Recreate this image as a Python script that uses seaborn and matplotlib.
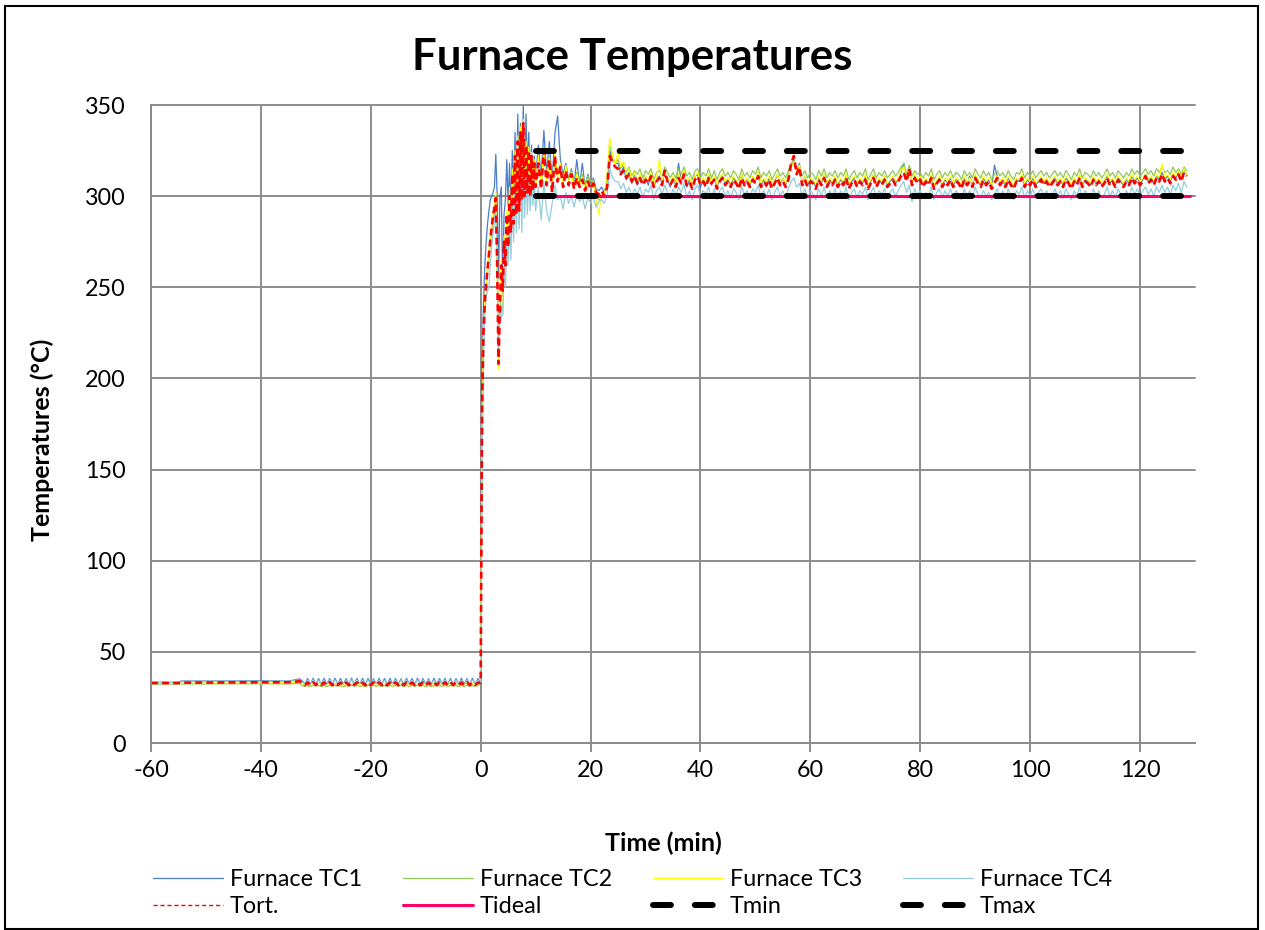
import numpy as np
import pandas as pd
import matplotlib
matplotlib.use('Agg')
import matplotlib.pyplot as plt
import seaborn as sns
from matplotlib.lines import Line2D
from matplotlib.patches import Rectangle

sns.set_theme(style='white')
plt.rcParams['font.family'] = ['Lato', 'DejaVu Sans']
plt.rcParams['axes.unicode_minus'] = False
plt.rcParams['text.color'] = 'black'
plt.rcParams['xtick.color'] = 'black'
plt.rcParams['ytick.color'] = 'black'

# ---------------- data ----------------
series_names = ['Furnace TC1', 'Furnace TC2', 'Furnace TC3', 'Furnace TC4', 'Tort.']

# pre-heating phase (min)
t_pre = [-60, -55, -54.5, -48, -40, -35, -33.5, -33, -32.5]
tc1_pre = [33.3, 33.3, 34.0, 34.0, 34.1, 34.0, 34.8, 35.2, 34.2]
tc2_pre = [32.3, 32.3, 32.4, 32.4, 32.5, 32.4, 32.6, 32.8, 31.6]
tc3_pre = [32.8, 32.8, 32.9, 33.0, 33.0, 33.1, 33.3, 33.5, 32.4]
tc4_pre = [33.2, 33.2, 33.6, 33.8, 33.7, 33.8, 34.3, 34.6, 33.5]
tort_pre = [32.9, 32.9, 33.1, 33.2, 33.3, 33.3, 33.7, 34.0, 32.9]

# oscillating phase before ignition, -32 .. -0.5 min every 0.5 min
t_saw = np.arange(-32, 0, 0.5)
tc1_saw = [32.2, 35.4, 32.1, 35.5, 32.3, 35.3, 32.2, 35.5, 32.1, 35.4, 32.2, 35.5, 32.3, 35.4, 32.1, 35.3,
           32.2, 35.5, 32.3, 35.4, 32.2, 35.5, 32.1, 35.4, 32.2, 35.3, 32.2, 35.5, 32.3, 35.4, 32.1, 35.5,
           32.2, 35.4, 32.2, 35.3, 32.1, 35.5, 32.3, 35.4, 32.2, 35.5, 32.2, 35.4, 32.1, 35.3, 32.2, 35.5,
           32.3, 35.4, 32.2, 35.5, 32.1, 35.4, 32.2, 35.3, 32.2, 35.5, 32.3, 35.4, 32.1, 35.5, 32.2, 35.4]
tc2_saw = [31.0, 31.6, 30.9, 31.7, 31.1, 31.5, 31.0, 31.6, 30.9, 31.7, 31.0, 31.6, 31.1, 31.5, 30.9, 31.6,
           31.0, 31.7, 31.1, 31.6, 31.0, 31.5, 30.9, 31.6, 31.0, 31.7, 31.1, 31.6, 31.0, 31.5, 30.9, 31.6,
           31.1, 31.6, 31.0, 31.7, 30.9, 31.6, 31.0, 31.5, 31.1, 31.6, 31.0, 31.7, 30.9, 31.6, 31.0, 31.5,
           31.1, 31.6, 31.0, 31.7, 30.9, 31.6, 31.1, 31.5, 31.0, 31.6, 30.9, 31.7, 31.0, 31.6, 31.1, 31.5]
tc3_saw = [32.0, 32.9, 31.9, 33.0, 32.1, 32.8, 32.0, 32.9, 31.9, 33.0, 32.0, 32.9, 32.1, 32.8, 31.9, 32.9,
           32.0, 33.0, 32.1, 32.9, 32.0, 32.8, 31.9, 32.9, 32.0, 33.0, 32.1, 32.9, 32.0, 32.8, 31.9, 32.9,
           32.1, 32.9, 32.0, 33.0, 31.9, 32.9, 32.0, 32.8, 32.1, 32.9, 32.0, 33.0, 31.9, 32.9, 32.0, 32.8,
           32.1, 32.9, 32.0, 33.0, 31.9, 32.9, 32.1, 32.8, 32.0, 32.9, 31.9, 33.0, 32.0, 32.9, 32.1, 32.8]
tc4_saw = [32.4, 34.6, 32.3, 34.7, 32.5, 34.5, 32.4, 34.6, 32.3, 34.7, 32.4, 34.6, 32.5, 34.5, 32.3, 34.6,
           32.4, 34.7, 32.5, 34.6, 32.4, 34.5, 32.3, 34.6, 32.4, 34.7, 32.5, 34.6, 32.4, 34.5, 32.3, 34.6,
           32.5, 34.6, 32.4, 34.7, 32.3, 34.6, 32.4, 34.5, 32.5, 34.6, 32.4, 34.7, 32.3, 34.6, 32.4, 34.5,
           32.5, 34.6, 32.4, 34.7, 32.3, 34.6, 32.5, 34.5, 32.4, 34.6, 32.3, 34.7, 32.4, 34.6, 32.5, 34.5]
tort_saw = [31.8, 33.2, 31.7, 33.3, 31.9, 33.1, 31.8, 33.2, 31.7, 33.3, 31.8, 33.2, 31.9, 33.1, 31.7, 33.2,
            31.8, 33.3, 31.9, 33.2, 31.8, 33.1, 31.7, 33.2, 31.8, 33.3, 31.9, 33.2, 31.8, 33.1, 31.7, 33.2,
            31.9, 33.2, 31.8, 33.3, 31.7, 33.2, 31.8, 33.1, 31.9, 33.2, 31.8, 33.3, 31.7, 33.2, 31.8, 33.1,
            31.9, 33.2, 31.8, 33.3, 31.7, 33.2, 31.9, 33.1, 31.8, 33.2, 31.7, 33.3, 31.8, 33.2, 31.9, 33.1]

# heating ramp, 0 .. 10 min every 0.25 min
t_ramp = np.arange(0, 10.01, 0.25)
tc1_ramp = [33, 200, 240, 262, 275, 285, 292, 298, 300, 302, 305, 323, 300, 255, 300, 305, 250, 290, 298, 320,
            295, 318, 290, 325, 300, 335, 298, 345, 305, 340, 310, 350, 305, 345, 312, 335, 308, 328, 306, 322, 310]
tc2_ramp = [33, 175, 220, 240, 250, 258, 266, 274, 281, 287, 292, 297, 268, 215, 245, 238, 235, 270, 268, 285,
            278, 298, 285, 308, 290, 318, 295, 325, 296, 330, 300, 332, 302, 325, 305, 320, 303, 320, 305, 316, 306]
tc3_ramp = [33, 180, 222, 243, 253, 262, 270, 278, 285, 290, 295, 302, 258, 205, 250, 265, 240, 278, 265, 292,
            275, 305, 282, 315, 288, 325, 292, 333, 295, 338, 300, 342, 302, 330, 304, 327, 302, 324, 305, 320, 306]
tc4_ramp = [33, 150, 205, 235, 245, 248, 250, 262, 272, 280, 287, 292, 265, 215, 238, 233, 236, 262, 250, 275,
            262, 290, 265, 298, 275, 308, 280, 315, 282, 318, 280, 322, 288, 315, 290, 312, 292, 310, 295, 308, 292]
tort_ramp = [33, 185, 225, 242, 252, 260, 268, 276, 283, 289, 294, 299, 262, 208, 240, 262, 248, 275, 262, 290,
             272, 300, 280, 312, 285, 322, 290, 330, 292, 335, 298, 340, 300, 328, 302, 325, 300, 322, 303, 318, 305]

# stabilisation, 10.5 .. 24.5 min every 0.5 min
t_hold = np.arange(10.5, 24.51, 0.5)
tc1_hold = [328, 310, 336, 312, 330, 308, 334, 344, 320, 312, 318, 309, 315, 307, 320,
            306, 318, 305, 312, 306, 310, 304, 303, 305, 302, 308, 325, 320, 318]
tc2_hold = [320, 306, 324, 310, 322, 306, 320, 312, 318, 309, 316, 310, 314, 308, 313,
            309, 312, 307, 311, 308, 309, 300, 298, 299, 300, 310, 328, 322, 318]
tc3_hold = [322, 305, 326, 308, 321, 304, 324, 310, 318, 306, 317, 307, 313, 305, 312,
            306, 310, 304, 309, 305, 308, 298, 290, 302, 300, 312, 332, 322, 317]
tc4_hold = [305, 287, 308, 292, 286, 296, 306, 298, 300, 293, 302, 296, 300, 294, 301,
            297, 300, 293, 299, 296, 300, 294, 297, 298, 296, 300, 315, 310, 308]
tort_hold = [318, 304, 325, 306, 320, 302, 322, 308, 316, 305, 314, 306, 312, 304, 310,
             305, 309, 303, 308, 304, 307, 302, 301, 303, 300, 305, 322, 318, 316]

# steady phase, 25 .. 128.5 min every 0.5 min
t_steady = np.arange(25, 128.51, 0.5)
tc1_steady = [
    318, 312, 316, 309, 313, 307, 312, 306, 310, 308, 311, 306, 312, 305, 309, 311, 307, 312, 309, 305,
    310, 306, 318, 308, 313, 305, 309, 306, 311, 312, 305, 309, 307, 311, 306, 310, 305, 309, 311, 307,
    309, 306, 310, 308, 305, 312, 307, 309, 306, 310, 308, 313, 306, 309, 305, 310, 306, 308, 312, 307,
    310, 306, 311, 317, 320, 314, 318, 307, 311, 306, 309, 308, 305, 310, 307, 312, 306, 309, 307, 310,
    306, 309, 307, 311, 305, 308, 310, 306, 309, 307, 311, 305, 308, 312, 306, 309, 307, 311, 306, 308,
    310, 307, 309, 313, 318, 309, 316, 307, 311, 308, 310, 306, 309, 307, 311, 305, 308, 310, 306, 309,
    307, 310, 306, 309, 308, 305, 310, 307, 311, 306, 311, 308, 306, 310, 307, 309, 305, 317, 311, 307,
    309, 306, 310, 307, 305, 309, 308, 311, 306, 309, 307, 310, 306, 308, 310, 307, 309, 306, 308, 310,
    307, 309, 306, 310, 308, 305, 309, 307, 311, 306, 309, 308, 306, 310, 307, 309, 306, 308, 311, 307,
    309, 306, 310, 308, 306, 309, 307, 311, 308, 310, 307, 309, 312, 308, 310, 307, 311, 309, 313, 309,
    311, 308, 312, 310, 313, 309, 314, 312]
tc2_steady = [
    320, 315, 318, 313, 316, 311, 314, 312, 315, 310, 314, 312, 315, 309, 313, 314, 311, 316, 313, 310,
    313, 310, 315, 312, 316, 311, 313, 309, 314, 315, 310, 313, 311, 315, 310, 314, 309, 313, 315, 311,
    313, 310, 314, 312, 309, 315, 311, 313, 310, 314, 312, 316, 310, 313, 311, 314, 309, 312, 315, 311,
    313, 310, 314, 318, 320, 315, 317, 311, 314, 310, 313, 312, 309, 314, 311, 315, 310, 313, 311, 314,
    310, 313, 311, 315, 309, 312, 314, 310, 313, 311, 315, 309, 312, 315, 310, 313, 311, 314, 310, 312,
    314, 311, 313, 316, 318, 312, 317, 311, 314, 312, 313, 310, 313, 311, 315, 309, 312, 314, 310, 313,
    311, 314, 310, 313, 312, 309, 314, 311, 313, 310, 315, 312, 310, 314, 311, 313, 309, 312, 314, 311,
    313, 310, 314, 311, 309, 313, 312, 315, 310, 313, 311, 314, 310, 312, 314, 311, 313, 310, 312, 314,
    311, 313, 310, 314, 312, 309, 313, 311, 315, 310, 313, 312, 310, 314, 311, 313, 310, 312, 315, 311,
    313, 310, 314, 312, 310, 313, 311, 315, 312, 314, 311, 313, 315, 312, 314, 311, 315, 313, 316, 313,
    314, 312, 316, 313, 315, 312, 316, 314]
tc3_steady = [
    325, 316, 319, 312, 315, 309, 313, 308, 312, 307, 311, 309, 313, 306, 310, 320, 308, 313, 310, 307,
    311, 307, 312, 309, 314, 308, 310, 306, 311, 313, 307, 310, 308, 312, 307, 311, 306, 310, 312, 308,
    310, 307, 311, 309, 306, 312, 308, 310, 307, 311, 309, 313, 307, 310, 308, 311, 306, 309, 312, 308,
    310, 307, 311, 316, 319, 313, 317, 308, 311, 307, 310, 309, 306, 311, 308, 312, 307, 310, 308, 311,
    307, 310, 308, 312, 306, 309, 311, 307, 310, 308, 312, 306, 309, 312, 307, 310, 308, 311, 307, 309,
    311, 308, 310, 314, 316, 310, 315, 308, 312, 309, 311, 307, 310, 308, 312, 306, 309, 311, 307, 310,
    308, 311, 307, 310, 309, 306, 311, 308, 310, 307, 312, 309, 307, 311, 308, 310, 306, 309, 311, 308,
    310, 307, 311, 308, 306, 310, 309, 312, 307, 310, 308, 311, 307, 309, 311, 308, 310, 307, 309, 311,
    308, 310, 307, 311, 309, 306, 310, 308, 312, 307, 310, 309, 307, 311, 308, 310, 307, 309, 312, 308,
    310, 307, 311, 309, 307, 310, 308, 312, 309, 311, 308, 310, 312, 309, 311, 308, 312, 310, 318, 310,
    312, 309, 313, 311, 314, 310, 315, 312]
tc4_steady = [
    308, 304, 307, 302, 305, 300, 304, 301, 305, 299, 304, 302, 306, 298, 303, 305, 301, 306, 302, 299,
    304, 300, 305, 302, 307, 299, 303, 298, 304, 306, 300, 303, 301, 305, 299, 304, 298, 303, 305, 300,
    303, 299, 304, 302, 298, 305, 301, 303, 299, 304, 302, 306, 299, 303, 300, 304, 298, 302, 305, 300,
    303, 299, 304, 308, 310, 305, 307, 300, 304, 299, 303, 301, 298, 304, 300, 305, 299, 303, 300, 304,
    299, 303, 300, 305, 298, 302, 304, 299, 303, 301, 305, 298, 302, 305, 299, 303, 301, 304, 299, 302,
    304, 300, 303, 306, 308, 302, 306, 297, 304, 301, 303, 299, 302, 300, 305, 298, 302, 304, 299, 303,
    300, 304, 299, 303, 301, 298, 304, 300, 303, 299, 305, 301, 299, 303, 300, 302, 298, 301, 304, 300,
    303, 299, 304, 300, 298, 303, 301, 305, 299, 303, 300, 304, 299, 302, 304, 300, 303, 299, 301, 304,
    300, 303, 299, 304, 301, 298, 303, 300, 305, 299, 303, 301, 299, 304, 300, 303, 299, 301, 305, 300,
    303, 299, 304, 301, 299, 303, 300, 305, 301, 304, 300, 303, 305, 301, 304, 300, 305, 302, 306, 302,
    305, 301, 306, 303, 307, 302, 308, 305]
tort_steady = [
    315, 312, 314, 310, 312, 308, 311, 307, 310, 306, 309, 307, 311, 305, 308, 310, 306, 314, 308, 306,
    309, 305, 310, 307, 312, 306, 308, 304, 309, 311, 306, 308, 305, 310, 307, 309, 304, 308, 310, 306,
    308, 305, 309, 307, 304, 310, 306, 308, 305, 309, 307, 311, 305, 308, 306, 309, 304, 307, 310, 306,
    308, 305, 309, 318, 322, 312, 316, 306, 309, 305, 308, 307, 304, 309, 306, 310, 305, 308, 306, 309,
    305, 308, 306, 310, 304, 307, 309, 305, 308, 306, 309, 304, 307, 310, 305, 308, 306, 309, 305, 307,
    309, 306, 308, 311, 313, 308, 315, 306, 310, 307, 309, 305, 308, 306, 310, 304, 307, 309, 305, 308,
    306, 309, 305, 308, 307, 304, 309, 306, 308, 305, 310, 307, 305, 309, 306, 308, 304, 307, 310, 306,
    308, 305, 309, 306, 304, 308, 307, 310, 305, 308, 306, 309, 305, 307, 309, 306, 308, 305, 307, 309,
    306, 308, 305, 309, 307, 304, 308, 306, 310, 305, 308, 307, 305, 309, 306, 308, 305, 307, 310, 306,
    308, 305, 309, 307, 305, 308, 306, 310, 307, 309, 306, 308, 311, 307, 309, 306, 310, 308, 312, 308,
    310, 307, 311, 309, 312, 308, 313, 311]

# limit lines
t_limits = [10, 129]
tideal = [300, 300]
tmin = [300, 300]
tmax = [325, 325]

x_ticks = [-60, -40, -20, 0, 20, 40, 60, 80, 100, 120]
y_ticks = [0, 50, 100, 150, 200, 250, 300, 350]

# ---------------- assemble ----------------
t_all = np.concatenate([t_pre, t_saw, t_ramp, t_hold, t_steady])
vals = {
    'Furnace TC1': tc1_pre + tc1_saw + tc1_ramp + tc1_hold + tc1_steady,
    'Furnace TC2': tc2_pre + tc2_saw + tc2_ramp + tc2_hold + tc2_steady,
    'Furnace TC3': tc3_pre + tc3_saw + tc3_ramp + tc3_hold + tc3_steady,
    'Furnace TC4': tc4_pre + tc4_saw + tc4_ramp + tc4_hold + tc4_steady,
    'Tort.': tort_pre + tort_saw + tort_ramp + tort_hold + tort_steady,
}
frames = [pd.DataFrame({'t': t_all, 'T': v, 'series': k}) for k, v in vals.items()]
df = pd.concat(frames, ignore_index=True)
lim = pd.concat([
    pd.DataFrame({'t': t_limits, 'T': tideal, 'series': 'Tideal'}),
    pd.DataFrame({'t': t_limits, 'T': tmin, 'series': 'Tmin'}),
    pd.DataFrame({'t': t_limits, 'T': tmax, 'series': 'Tmax'}),
], ignore_index=True)

styles = {
    'Furnace TC1': dict(color='#4A7EC8', lw=0.9),
    'Furnace TC2': dict(color='#90C957', lw=0.9),
    'Furnace TC3': dict(color='#FFFF00', lw=0.9),
    'Furnace TC4': dict(color='#93CDDD', lw=0.9),
    'Tort.': dict(color='#FF0000', lw=1.9, dashes=(2.6, 1.6)),
    'Tideal': dict(color='#FF0066', lw=2.2),
    'Tmin': dict(color='black', lw=4.3, dashes=(3, 4), dash_capstyle='round'),
    'Tmax': dict(color='black', lw=4.3, dashes=(3, 4), dash_capstyle='round'),
}

W, H = 1265, 930
fig = plt.figure(figsize=(W / 100, H / 100), dpi=100)
ax = fig.add_axes([151 / W, 1 - 743 / H, (1195 - 151) / W, (743 - 105) / H])

for name in series_names:
    st = dict(styles[name])
    d = st.pop('dashes', None)
    sns.lineplot(data=df[df['series'] == name], x='t', y='T', ax=ax, estimator=None,
                 sort=False, legend=False, **st)
    if d is not None:
        ax.lines[-1].set_dashes(d)
for name in ['Tideal', 'Tmin', 'Tmax']:
    st = dict(styles[name])
    d = st.pop('dashes', None)
    sns.lineplot(data=lim[lim['series'] == name], x='t', y='T', ax=ax, estimator=None,
                 sort=False, legend=False, **st)
    if d is not None:
        ax.lines[-1].set_dashes(d)

ax.set_xlim(-60, 130)
ax.set_ylim(0, 350)
ax.set_xticks(x_ticks)
ax.set_yticks(y_ticks)
ax.set_xlabel('')
ax.set_ylabel('')
grid_c = '#8C8C8C'
ax.grid(True, color=grid_c, lw=1.4)
ax.set_axisbelow(True)
for gl in ax.get_ygridlines() + ax.get_xgridlines():
    gl.set_clip_on(False)
for s in ['top', 'right']:
    ax.spines[s].set_visible(False)
for s in ['left', 'bottom']:
    ax.spines[s].set_color(grid_c)
    ax.spines[s].set_linewidth(1.4)
ax.tick_params(axis='x', length=6.5, width=1.4, color=grid_c, direction='out', pad=6,
               labelsize=16.8, labelcolor='black', bottom=True)
ax.tick_params(axis='y', length=0, pad=18, labelsize=16.8, labelcolor='black', left=True)

fig.text(0.5, 1 - 57 / H, 'Furnace Temperatures', ha='center', va='center',
         fontsize=31.5, fontweight='bold', color='black')
fig.text(663 / W, 1 - 843 / H, 'Time (min)', ha='center', va='center',
         fontsize=18, fontweight='bold', color='black')
fig.text(42 / W, 1 - 440 / H, 'Temperatures (°C)', ha='center', va='center',
         rotation=90, fontsize=18, fontweight='bold', color='black')

# legend (column-major fill -> order so rows read TC1..TC4 / Tort..Tmax)
def handle(name):
    st = dict(styles[name])
    d = st.pop('dashes', None)
    lw = st.pop('lw')
    cap = st.pop('dash_capstyle', None)
    if name == 'Tort.':
        lw = 1.0
        d = (3, 2)
    h = Line2D([0], [0], lw=lw, **st)
    if d is not None:
        h.set_dashes(d)
        if cap:
            h.set_dash_capstyle(cap)
    return h

order = ['Furnace TC1', 'Tort.', 'Furnace TC2', 'Tideal', 'Furnace TC3', 'Tmin', 'Furnace TC4', 'Tmax']
leg = fig.legend([handle(n) for n in order], order, ncol=4, loc='center',
                 bbox_to_anchor=(0.5, 1 - 893 / H), frameon=False, fontsize=16.8,
                 handlelength=3.0, handletextpad=0.3, columnspacing=1.75, labelspacing=0.28)
for txt in leg.get_texts():
    txt.set_color('black')

fig.patches.append(Rectangle((5 / W, 1 - 929 / H), (1258 - 5) / W, (929 - 6) / H,
                             transform=fig.transFigure, fill=False, edgecolor='black', lw=1.5))

fig.savefig('out.png', dpi=100)
